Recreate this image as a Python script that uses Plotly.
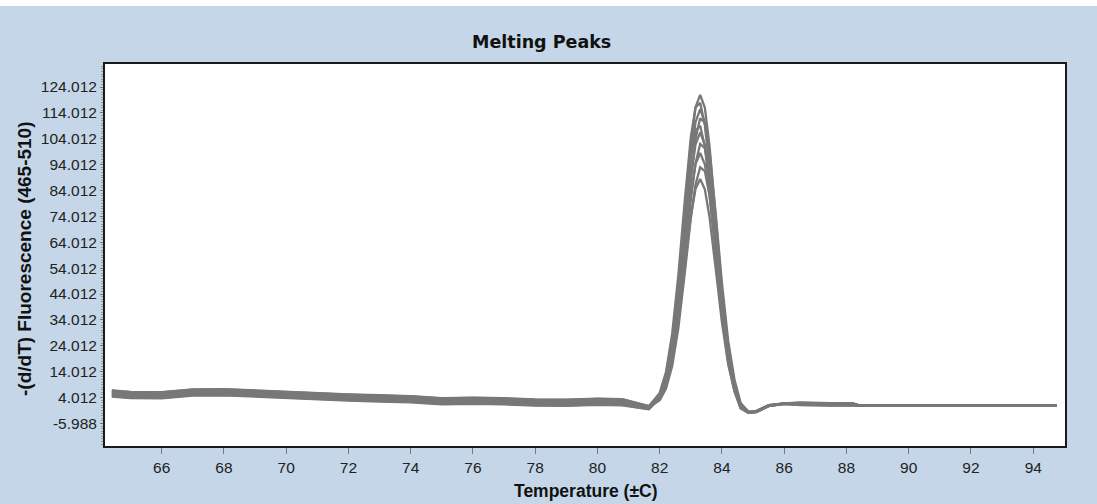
import plotly.graph_objects as go

# Temperature grid (°C) shared by all melting-curve traces
temps = [64.4, 65.0, 66.0, 67.0, 68.0, 69.0, 70.0, 71.0, 72.0, 73.0, 74.0, 75.0,
         76.0, 77.0, 78.0, 79.0, 80.0, 80.8, 81.3, 81.65,
         82.0, 82.2, 82.4, 82.6, 82.8, 83.0, 83.15, 83.3, 83.45, 83.6, 83.8, 84.0,
         84.2, 84.4, 84.6, 84.85,
         85.1, 85.5, 86.0, 86.5, 87.5, 88.2, 88.4, 91.0, 94.75]

# -(d/dT) fluorescence (465-510) for each sample
sample_01 = [6.0, 5.4, 5.3, 6.4, 6.5, 6.0, 5.4, 4.8, 4.4, 4.1, 3.8, 3.0, 3.2, 3.0, 2.5, 2.4, 2.8, 2.6, 1.3, 0.3,
             4.7, 11.6, 24.8, 46.2, 74.1, 101.6, 116.2, 121.0, 116.1, 101.3, 73.6, 45.4, 23.5, 9.6, 1.1, -1.6,
             -1.3, 0.9, 1.7, 1.8, 1.6, 1.6, 1.0, 1.0, 1.0]
sample_02 = [6.7, 6.1, 6.0, 7.1, 7.2, 6.7, 6.1, 5.5, 5.1, 4.8, 4.5, 3.7, 3.9, 3.7, 3.2, 3.1, 3.5, 3.3, 1.8, 0.7,
             5.8, 13.8, 28.6, 51.5, 79.4, 104.7, 116.1, 117.9, 109.3, 92.7, 64.6, 38.4, 18.9, 7.2, 0.1, -1.9,
             -1.2, 1.0, 1.7, 2.0, 1.8, 1.8, 1.0, 1.0, 1.0]
sample_03 = [5.1, 4.5, 4.4, 5.5, 5.6, 5.1, 4.5, 3.9, 3.5, 3.2, 2.9, 2.1, 2.3, 2.1, 1.6, 1.5, 1.9, 1.7, 0.7, -0.2,
             4.5, 11.0, 23.6, 43.9, 70.5, 96.6, 110.4, 115.5, 110.3, 96.3, 70.0, 43.1, 22.3, 9.0, 0.9, -1.7,
             -1.5, 0.8, 1.6, 1.4, 1.2, 1.2, 1.0, 1.0, 1.0]
sample_04 = [6.3, 5.7, 5.6, 6.7, 6.8, 6.3, 5.7, 5.1, 4.7, 4.4, 4.1, 3.3, 3.5, 3.3, 2.8, 2.7, 3.1, 2.9, 1.5, 0.5,
             3.5, 8.8, 19.2, 37.2, 61.9, 88.3, 103.9, 111.9, 110.2, 99.1, 74.9, 48.2, 25.9, 11.1, 1.9, -1.4,
             -1.3, 1.1, 1.8, 1.9, 1.7, 1.7, 1.0, 1.0, 1.0]
sample_05 = [4.6, 4.0, 3.9, 5.0, 5.1, 4.6, 4.0, 3.4, 3.0, 2.7, 2.4, 1.6, 1.8, 1.6, 1.1, 1.0, 1.4, 1.2, 0.3, -0.4,
             5.4, 12.8, 26.5, 47.7, 73.4, 96.7, 107.3, 109.0, 101.0, 85.6, 59.7, 35.4, 17.4, 6.5, -0.2, -1.9,
             -1.6, 0.7, 1.6, 1.2, 1.0, 1.0, 1.0, 1.0, 1.0]
sample_06 = [5.6, 5.0, 4.9, 6.0, 6.1, 5.6, 5.0, 4.4, 4.0, 3.7, 3.4, 2.6, 2.8, 2.6, 2.1, 2.0, 2.4, 2.2, 1.0, 0.1,
             4.2, 10.2, 21.8, 40.6, 65.0, 89.1, 101.8, 106.5, 101.7, 88.8, 64.5, 39.8, 20.5, 8.2, 0.6, -1.8,
             -1.4, 0.9, 1.7, 1.6, 1.4, 1.4, 1.0, 1.0, 1.0]
sample_07 = [6.8, 6.2, 6.1, 7.2, 7.3, 6.8, 6.2, 5.6, 5.2, 4.9, 4.6, 3.8, 4.0, 3.8, 3.3, 3.2, 3.6, 3.4, 1.8, 0.7,
             3.3, 8.0, 17.5, 34.0, 56.4, 80.5, 94.6, 102.0, 100.4, 90.3, 68.2, 43.9, 23.6, 10.0, 1.5, -1.5,
             -1.2, 1.1, 1.8, 2.1, 1.9, 1.9, 1.0, 1.0, 1.0]
sample_08 = [4.9, 4.3, 4.2, 5.3, 5.4, 4.9, 4.3, 3.7, 3.3, 3.0, 2.7, 1.9, 2.1, 1.9, 1.4, 1.3, 1.7, 1.5, 0.5, -0.3,
             3.9, 9.5, 20.2, 37.6, 60.2, 82.4, 94.2, 98.5, 94.1, 82.1, 59.7, 36.8, 18.9, 7.5, 0.3, -1.8,
             -1.5, 0.8, 1.6, 1.3, 1.1, 1.1, 1.0, 1.0, 1.0]
sample_09 = [5.9, 5.3, 5.2, 6.3, 6.4, 5.9, 5.3, 4.7, 4.3, 4.0, 3.7, 2.9, 3.1, 2.9, 2.4, 2.3, 2.7, 2.5, 1.2, 0.3,
             3.0, 7.4, 16.1, 31.0, 51.5, 73.4, 86.3, 93.0, 91.5, 82.3, 62.2, 40.0, 21.4, 9.0, 1.1, -1.6,
             -1.3, 0.9, 1.7, 1.7, 1.5, 1.5, 1.0, 1.0, 1.0]
sample_10 = [4.4, 3.8, 3.7, 4.8, 4.9, 4.4, 3.8, 3.2, 2.8, 2.5, 2.2, 1.4, 1.6, 1.4, 0.9, 0.8, 1.2, 1.0, 0.2, -0.5,
             3.6, 8.6, 18.2, 33.8, 54.1, 74.1, 84.6, 88.5, 84.5, 73.8, 53.6, 33.0, 16.9, 6.6, 0.0, -1.9,
             -1.6, 0.7, 1.6, 1.1, 0.9, 0.9, 1.0, 1.0, 1.0]

samples = [sample_01, sample_02, sample_03, sample_04, sample_05,
           sample_06, sample_07, sample_08, sample_09, sample_10]

x_ticks = [66, 68, 70, 72, 74, 76, 78, 80, 82, 84, 86, 88, 90, 92, 94]
y_ticks = [124.012, 114.012, 104.012, 94.012, 84.012, 74.012, 64.012, 54.012,
           44.012, 34.012, 24.012, 14.012, 4.012, -5.988]
y_tick_text = ["124.012", "114.012", "104.012", "94.012", "84.012", "74.012", "64.012",
               "54.012", "44.012", "34.012", "24.012", "14.012", "4.012", "-5.988"]

BG = "#C4D6E7"
LINE = "#787878"
SANS = "Liberation Sans, Arial, sans-serif"

fig = go.Figure()
for s in samples:
    fig.add_trace(go.Scatter(x=temps, y=s, mode="lines",
                             line=dict(color=LINE, width=2.3), hoverinfo="skip",
                             showlegend=False))

fig.update_layout(
    width=1097, height=504,
    margin=dict(l=105, r=32, t=64, b=58),
    paper_bgcolor=BG, plot_bgcolor="white",
    showlegend=False,
    xaxis=dict(range=[64.18, 95.02], tickmode="array", tickvals=x_ticks,
               ticks="outside", ticklen=6, tickcolor="#777", tickwidth=1,
               showgrid=False, zeroline=False,
               showline=True, linecolor="#1a1a1a", linewidth=2, mirror=True,
               tickfont=dict(family=SANS, size=15.5, color="#222")),
    yaxis=dict(range=[-14.7, 132.9], tickmode="array", tickvals=y_ticks,
               ticktext=y_tick_text,
               ticks="outside", ticklen=3, tickcolor="#777", tickwidth=1,
               minor=dict(tickmode="linear", tick0=4.012, dtick=1.0,
                          ticks="outside", ticklen=2, tickcolor="#999"),
               showgrid=False, zeroline=False,
               showline=True, linecolor="#1a1a1a", linewidth=2, mirror=True,
               tickfont=dict(family=SANS, size=15.5, color="#222")),
    shapes=[
        # white strip along the top of the window
        dict(type="rect", xref="paper", yref="paper",
             x0=-0.12, x1=1.05, y0=1 + 58 / 382, y1=1 + 70 / 382,
             fillcolor="white", line=dict(width=0), layer="below"),
    ],
    annotations=[
        dict(text="<b>Melting Peaks</b>", xref="paper", yref="paper",
             x=(541.7 - 105) / 960, y=1 + (64 - 42) / 382,
             xanchor="center", yanchor="middle", showarrow=False,
             font=dict(family="DejaVu Sans", size=17.5, color="#111")),
        dict(text="<b>Temperature (±C)</b>", xref="paper", yref="paper",
             x=(585 - 105) / 960, y=-(491 - 446) / 382,
             xanchor="center", yanchor="middle", showarrow=False,
             font=dict(family=SANS, size=17.5, color="#111")),
        dict(text="<b>-(d/dT) Fluorescence (465-510)</b>", xref="paper", yref="paper",
             x=-(105 - 24) / 960, y=(446 - 259) / 382, textangle=-90,
             xanchor="center", yanchor="middle", showarrow=False,
             font=dict(family=SANS, size=19, color="#111")),
    ],
)

fig.write_html("out.html")
